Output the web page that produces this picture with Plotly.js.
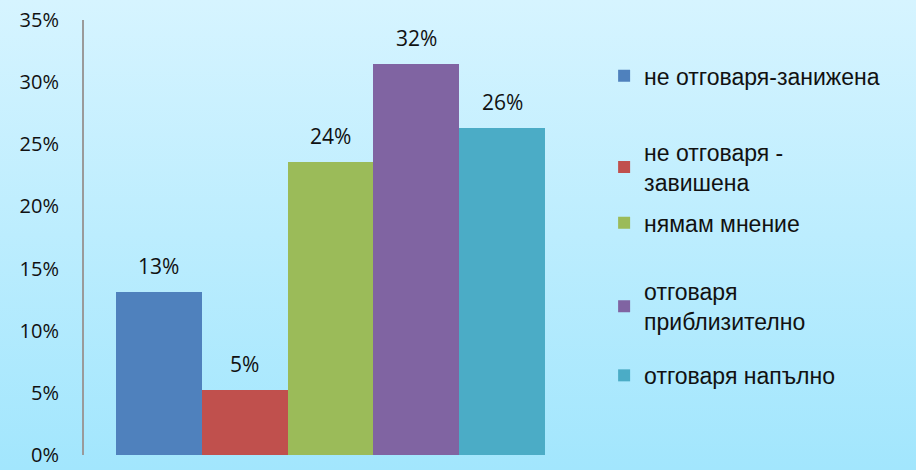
<!DOCTYPE html>
<html>
<head>
<meta charset="utf-8">
<script src="https://cdn.plot.ly/plotly-3.0.1.min.js"></script>
<style>
html,body{margin:0;padding:0;}
#chart{width:916px;height:470px;background:linear-gradient(to bottom,#d6f4ff 0%,#a2e6fd 100%);}
</style>
</head>
<body>
<div id="chart"></div>
<script>
const categories = ['не отговаря-занижена', 'не отговаря - завишена', 'нямам мнение', 'отговаря приблизително', 'отговаря напълно'];
const legendLabels = ['не отговаря-занижена', 'не отговаря -<br>завишена', 'нямам мнение', 'отговаря<br>приблизително', 'отговаря напълно'];
const seriesValues = [0.131, 0.052, 0.236, 0.315, 0.263];
const seriesColors = ['#4f81bd', '#c0504d', '#9bbb59', '#8064a2', '#4bacc6'];
const yTicks = [0, 0.05, 0.10, 0.15, 0.20, 0.25, 0.30, 0.35];
const yTickLabels = ['0%', '5%', '10%', '15%', '20%', '25%', '30%', '35%'];

const legendIds = ['legend', 'legend2', 'legend3', 'legend4', 'legend5'];
const legendY = [0.872, 0.662, 0.534, 0.342, 0.183];

const traces = categories.map((c, i) => ({
  type: 'bar',
  name: legendLabels[i],
  x: [c],
  y: [seriesValues[i]],
  marker: {color: seriesColors[i], line: {width: 0}},
  legend: legendIds[i],
  hoverinfo: 'skip'
}));

const annotations = categories.map((c, i) => ({
  x: c, y: seriesValues[i], xref: 'x', yref: 'y',
  text: Math.round(seriesValues[i] * 100) + '%',
  showarrow: false, yanchor: 'middle', yshift: 26,
  font: {family: 'Open Sans, sans-serif', size: 21, color: '#111'}
}));

const layout = {
  width: 916, height: 470,
  margin: {l: 84, r: 339, t: 20, b: 15, autoexpand: false},
  paper_bgcolor: 'rgba(0,0,0,0)',
  plot_bgcolor: 'rgba(0,0,0,0)',
  barmode: 'overlay',
  bargap: 0,
  showlegend: true,
  annotations: annotations,
  xaxis: {type: 'category', categoryarray: categories, range: [-0.87, 4.87],
          showticklabels: false, showline: false, showgrid: false, zeroline: false, ticks: ''},
  yaxis: {
    range: [0, 0.35], tickvals: yTicks, ticktext: yTickLabels,
    showgrid: false, zeroline: false, showline: true, linecolor: '#9a9a9a', linewidth: 2,
    ticks: '', ticklabelstandoff: 19, ticklabeloverflow: 'allow',
    tickfont: {family: 'Open Sans, sans-serif', size: 20, color: '#111'}
  }
};
legendIds.forEach((id, i) => {
  layout[id] = {
    x: 1.055, xref: 'paper', y: legendY[i], yref: 'paper', yanchor: 'middle', xanchor: 'left',
    bgcolor: 'rgba(0,0,0,0)', borderwidth: 0,
    font: {family: 'Liberation Sans, Arial, sans-serif', size: 23, color: '#111'},
    itemwidth: 30, tracegroupgap: 0
  };
});
Plotly.newPlot('chart', traces, layout, {displayModeBar: false, staticPlot: true});
</script>
</body>
</html>
